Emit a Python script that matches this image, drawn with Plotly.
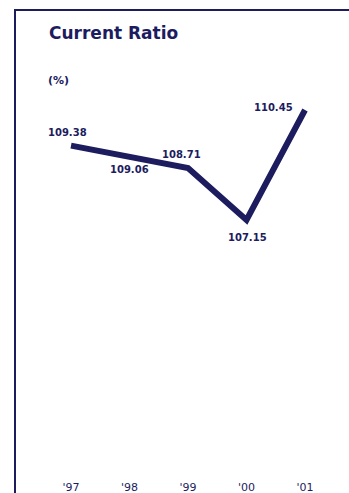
import plotly.graph_objects as go

# Current ratio by fiscal year
years = [1997, 1998, 1999, 2000, 2001]
year_labels = ["'97", "'98", "'99", "'00", "'01"]
ratio = [109.38, 109.06, 108.71, 107.15, 110.45]
# label offsets (px) relative to each point
label_dx = [-4, 0, -7, 1, -32]
label_dy = [-13, 13, -14, 17, -3]

NAVY = "#1c1c5e"
W, H = 349, 493
B = 14
plot_h = H - B

fig = go.Figure()
fig.add_trace(go.Scatter(
    x=years, y=ratio, mode="lines",
    line=dict(color=NAVY, width=6),
    hoverinfo="skip", showlegend=False,
))

for x, y, dx, dy in zip(years, ratio, label_dx, label_dy):
    fig.add_annotation(
        x=x, y=y, xref="x", yref="y", text=f"{y:.2f}",
        showarrow=False, xshift=dx, yshift=-dy,
        font=dict(family="DejaVu Sans", size=10, color=NAVY, weight="bold"),
    )

def py(pix):
    # pixel row -> paper y
    return (plot_h - pix) / plot_h

fig.add_annotation(
    x=47 / W, y=py(33), xref="paper", yref="paper", text="<b>Current Ratio</b>",
    showarrow=False, xanchor="left", yanchor="middle",
    font=dict(family="DejaVu Sans", size=17, color=NAVY),
)
fig.add_annotation(
    x=46 / W, y=py(81), xref="paper", yref="paper", text="<b>(%)</b>",
    showarrow=False, xanchor="left", yanchor="middle",
    font=dict(family="DejaVu Sans", size=11, color=NAVY),
)

# frame: left and top edges
fig.add_shape(
    type="path", xref="paper", yref="paper",
    path=f"M {15/W} {py(H+2)} L {15/W} {py(10)} L {(W+2)/W} {py(10)}",
    line=dict(color=NAVY, width=2),
)

fig.update_layout(
    width=W, height=H,
    margin=dict(l=0, r=0, t=0, b=B),
    paper_bgcolor="white", plot_bgcolor="white",
    xaxis=dict(
        range=[1995.786, 2001.752], tickvals=years, ticktext=year_labels,
        showgrid=False, zeroline=False, showline=False, ticks="",
        tickfont=dict(family="DejaVu Sans", size=11, color=NAVY),
        fixedrange=True,
    ),
    yaxis=dict(
        range=[99.38, 113.75], visible=False,
        showgrid=False, zeroline=False, fixedrange=True,
    ),
    showlegend=False,
)

fig.write_html("out.html")
